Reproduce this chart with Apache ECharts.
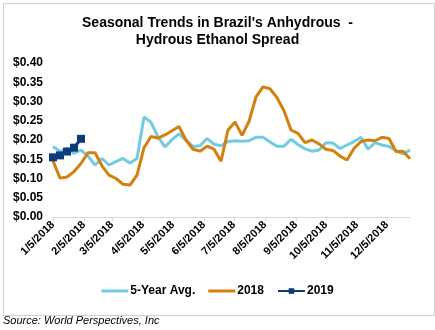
<!DOCTYPE html>
<html>
<head>
<meta charset="utf-8">
<script src="https://cdn.jsdelivr.net/npm/echarts@6/dist/echarts.min.js"></script>
<style>
  html, body { margin: 0; padding: 0; background: #fff; }
  #chart { width: 435px; height: 330px; }
</style>
</head>
<body>
<div id="chart"></div>
<script>
// ---- Data ----
const titleText = "Seasonal Trends in Brazil's Anhydrous  -\nHydrous Ethanol Spread";
const sourceText = "Source: World Perspectives, Inc";
const seriesNames = ["5-Year Avg.", "2018", "2019"];

const weekDates = [
  "1/5/2018","1/12/2018","1/19/2018","1/26/2018",
  "2/2/2018","2/9/2018","2/16/2018","2/23/2018",
  "3/2/2018","3/9/2018","3/16/2018","3/23/2018","3/30/2018",
  "4/6/2018","4/13/2018","4/20/2018","4/27/2018",
  "5/4/2018","5/11/2018","5/18/2018","5/25/2018",
  "6/1/2018","6/8/2018","6/15/2018","6/22/2018","6/29/2018",
  "7/6/2018","7/13/2018","7/20/2018","7/27/2018",
  "8/3/2018","8/10/2018","8/17/2018","8/24/2018","8/31/2018",
  "9/7/2018","9/14/2018","9/21/2018","9/28/2018",
  "10/5/2018","10/12/2018","10/19/2018","10/26/2018",
  "11/2/2018","11/9/2018","11/16/2018","11/23/2018","11/30/2018",
  "12/7/2018","12/14/2018","12/21/2018","12/28/2018"
];

const tickLabels = [
  "1/5/2018","2/5/2018","3/5/2018","4/5/2018","5/5/2018","6/5/2018",
  "7/5/2018","8/5/2018","9/5/2018","10/5/2018","11/5/2018","12/5/2018"
];

const avg5yr = [
  0.183, 0.170, 0.178, 0.165, 0.174, 0.158, 0.135, 0.152, 0.135, 0.144,
  0.152, 0.140, 0.152, 0.260, 0.246, 0.208, 0.182, 0.201, 0.216, 0.199,
  0.183, 0.185, 0.204, 0.189, 0.185, 0.196, 0.198, 0.197, 0.198, 0.207,
  0.207, 0.195, 0.184, 0.184, 0.202, 0.188, 0.177, 0.171, 0.174, 0.193,
  0.192, 0.178, 0.187, 0.196, 0.207, 0.176, 0.193, 0.187, 0.183, 0.172,
  0.164, 0.174
];

const y2018 = [
  0.146, 0.101, 0.104, 0.118, 0.139, 0.167, 0.167, 0.133, 0.109, 0.100,
  0.085, 0.083, 0.109, 0.180, 0.209, 0.205, 0.213, 0.224, 0.235, 0.200,
  0.176, 0.171, 0.184, 0.176, 0.145, 0.226, 0.247, 0.212, 0.248, 0.312,
  0.338, 0.333, 0.310, 0.276, 0.226, 0.217, 0.193, 0.200, 0.190, 0.176,
  0.173, 0.158, 0.148, 0.178, 0.196, 0.200, 0.198, 0.207, 0.204, 0.170,
  0.171, 0.151
];

const y2019 = [0.155, 0.160, 0.170, 0.180, 0.203];

// ---- Daily category axis (scaffolding for date-axis spacing) ----
const axisStart = new Date(2018, 0, 5);
const axisEnd = new Date(2018, 11, 28);
const dayCats = [];
for (let d = new Date(axisStart); d <= axisEnd; d.setDate(d.getDate() + 1)) {
  dayCats.push((d.getMonth() + 1) + "/" + d.getDate() + "/" + d.getFullYear());
}
const tickSet = new Set(tickLabels);
const pair = (vals) => vals.map((v, i) => [weekDates[i], v]);

const FONT = "Arial, 'Liberation Sans', sans-serif";
const C_AVG = "#72CCE0";
const C_18 = "#D3800F";
const C_19 = "#0B3B7C";
// plain line legend icon (thin slivers keep the 27x7 box so the bar stays 3px tall)
const LINE_ICON = "path://M0,0h27v0.01h-27zM0,2h27v3h-27zM0,6.99h27v0.01h-27z";

const chart = echarts.init(document.getElementById("chart"), null, { renderer: "canvas" });
chart.setOption({
  backgroundColor: "#fff",
  animation: false,
  title: {
    text: titleText,
    left: "center",
    top: 9,
    textStyle: { fontFamily: FONT, fontSize: 14, fontWeight: "bold", color: "#000", lineHeight: 17.5 }
  },
  grid: { left: 53, right: 25, top: 63, bottom: 113, containLabel: false },
  xAxis: {
    type: "category",
    data: dayCats,
    boundaryGap: false,
    axisLine: { show: true, lineStyle: { color: "#d9d9d9", width: 1 } },
    axisTick: {
      show: true, length: 4, lineStyle: { color: "#d9d9d9" },
      interval: (idx, val) => tickSet.has(val)
    },
    axisLabel: {
      interval: (idx, val) => tickSet.has(val),
      rotate: 45, margin: 6,
      fontFamily: FONT, fontSize: 11, fontWeight: "bold", color: "#000"
    },
    splitLine: { show: false }
  },
  yAxis: {
    type: "value",
    min: 0, max: 0.4, interval: 0.05,
    axisLine: { show: false },
    axisTick: { show: false },
    splitLine: { show: false },
    axisLabel: {
      formatter: (v) => "$" + v.toFixed(2),
      margin: 10,
      fontFamily: FONT, fontSize: 12, fontWeight: "bold", color: "#000"
    }
  },
  legend: {
    bottom: 28,
    left: "center",
    itemWidth: 27, itemHeight: 7, itemGap: 13,
    textStyle: { fontFamily: FONT, fontSize: 12, fontWeight: "bold", color: "#000", padding: [0, 0, 0, -3] },
    data: [
      { name: seriesNames[0], icon: LINE_ICON },
      { name: seriesNames[1], icon: LINE_ICON },
      { name: seriesNames[2] }
    ]
  },
  series: [
    { name: seriesNames[0], type: "line", data: pair(avg5yr), symbol: "none",
      lineStyle: { color: C_AVG, width: 3 }, itemStyle: { color: C_AVG } },
    { name: seriesNames[1], type: "line", data: pair(y2018), symbol: "none",
      lineStyle: { color: C_18, width: 3 }, itemStyle: { color: C_18 } },
    { name: seriesNames[2], type: "line", data: pair(y2019), symbol: "rect", symbolSize: 8,
      showAllSymbol: true,
      lineStyle: { color: C_19, width: 3 }, itemStyle: { color: C_19 } }
  ],
  graphic: [
    { type: "rect", left: 1, top: 1, silent: true, z: -1,
      shape: { width: 431, height: 312 },
      style: { fill: "none", stroke: "#d0d0d0", lineWidth: 1 } },
    { type: "text", left: 3, top: 315,
      style: { text: sourceText, fontFamily: FONT, fontSize: 11, fontStyle: "italic", fill: "#000" } }
  ]
});
</script>
</body>
</html>
